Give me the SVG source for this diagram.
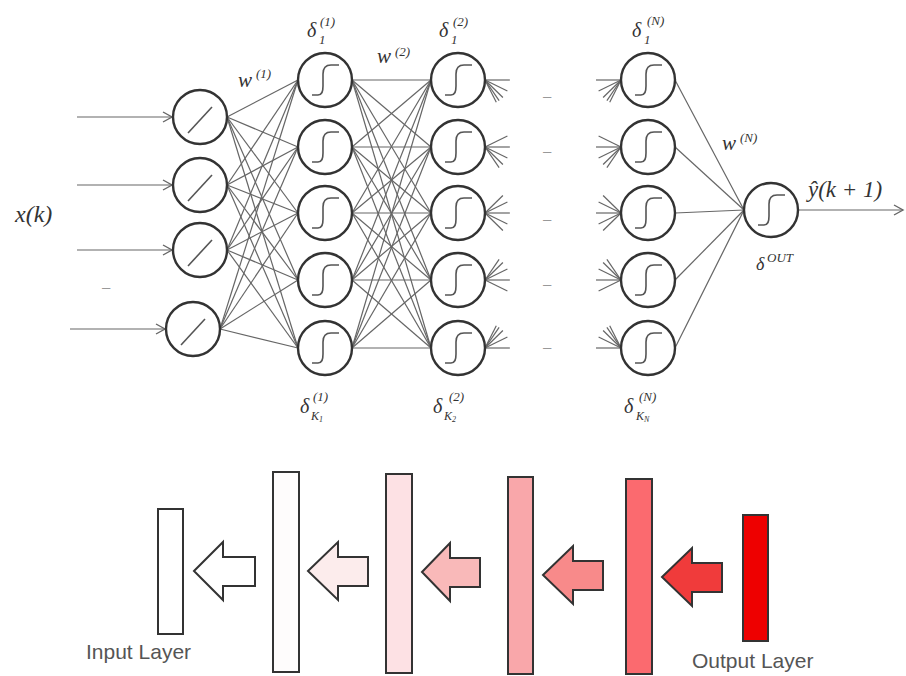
<svg xmlns="http://www.w3.org/2000/svg" width="906" height="676" viewBox="0 0 906 676">
<style>
.nd circle{fill:#fff;stroke:#333;stroke-width:2.4}
.sym{fill:none;stroke:#555;stroke-width:1.6}
.conn line{stroke:#666;stroke-width:1.2}
.m{font-family:"Liberation Serif",serif;font-style:italic;fill:#333}
.s{font-size:13px}
.d{font-family:"Liberation Sans",sans-serif;fill:#999;font-size:15px}
.lay{stroke:#333;stroke-width:2}
.lbl{font-family:"Liberation Sans",Arial,sans-serif;font-size:21px;fill:#555}
</style>
<defs>
<marker id="ah" markerUnits="userSpaceOnUse" markerWidth="14" markerHeight="14" refX="10" refY="6" orient="auto">
<path d="M1,1 L10,6 L1,11" fill="none" stroke="#666" stroke-width="1.4"/>
</marker>
<path id="sig" d="M-13,15 H-7 C-3,15 -2,12 -2,6 V-6 C-2,-12 1,-15 6,-15 H14" class="sym"/>
<path id="lin" d="M-12,16 L12,-10" class="sym"/>
</defs>

<g class="conn" id="connectors">
<line x1="77" y1="117" x2="172" y2="117" marker-end="url(#ah)"/>
<line x1="77" y1="185" x2="172" y2="185" marker-end="url(#ah)"/>
<line x1="77" y1="250" x2="172" y2="250" marker-end="url(#ah)"/>
<line x1="70" y1="329" x2="165" y2="329" marker-end="url(#ah)"/>
<line x1="227" y1="117" x2="298" y2="80"/><line x1="227" y1="117" x2="298" y2="147"/><line x1="227" y1="117" x2="298" y2="213"/><line x1="227" y1="117" x2="298" y2="280"/><line x1="227" y1="117" x2="298" y2="348"/>
<line x1="227" y1="185" x2="298" y2="80"/><line x1="227" y1="185" x2="298" y2="147"/><line x1="227" y1="185" x2="298" y2="213"/><line x1="227" y1="185" x2="298" y2="280"/><line x1="227" y1="185" x2="298" y2="348"/>
<line x1="227" y1="250" x2="298" y2="80"/><line x1="227" y1="250" x2="298" y2="147"/><line x1="227" y1="250" x2="298" y2="213"/><line x1="227" y1="250" x2="298" y2="280"/><line x1="227" y1="250" x2="298" y2="348"/>
<line x1="220" y1="329" x2="298" y2="80"/><line x1="220" y1="329" x2="298" y2="147"/><line x1="220" y1="329" x2="298" y2="213"/><line x1="220" y1="329" x2="298" y2="280"/><line x1="220" y1="329" x2="298" y2="348"/>
<line x1="352" y1="80" x2="431" y2="80"/><line x1="352" y1="80" x2="431" y2="147"/><line x1="352" y1="80" x2="431" y2="213"/><line x1="352" y1="80" x2="431" y2="280"/><line x1="352" y1="80" x2="431" y2="348"/>
<line x1="352" y1="147" x2="431" y2="80"/><line x1="352" y1="147" x2="431" y2="147"/><line x1="352" y1="147" x2="431" y2="213"/><line x1="352" y1="147" x2="431" y2="280"/><line x1="352" y1="147" x2="431" y2="348"/>
<line x1="352" y1="213" x2="431" y2="80"/><line x1="352" y1="213" x2="431" y2="147"/><line x1="352" y1="213" x2="431" y2="213"/><line x1="352" y1="213" x2="431" y2="280"/><line x1="352" y1="213" x2="431" y2="348"/>
<line x1="352" y1="280" x2="431" y2="80"/><line x1="352" y1="280" x2="431" y2="147"/><line x1="352" y1="280" x2="431" y2="213"/><line x1="352" y1="280" x2="431" y2="280"/><line x1="352" y1="280" x2="431" y2="348"/>
<line x1="352" y1="348" x2="431" y2="80"/><line x1="352" y1="348" x2="431" y2="147"/><line x1="352" y1="348" x2="431" y2="213"/><line x1="352" y1="348" x2="431" y2="280"/><line x1="352" y1="348" x2="431" y2="348"/>
<line x1="485" y1="80" x2="510" y2="80"/><line x1="485" y1="80" x2="507.4" y2="91"/><line x1="485" y1="80" x2="502.9" y2="97.5"/><line x1="485" y1="80" x2="499.1" y2="100.7"/><line x1="485" y1="80" x2="496.3" y2="102.3"/>
<line x1="485" y1="147" x2="507.4" y2="136"/><line x1="485" y1="147" x2="510" y2="147"/><line x1="485" y1="147" x2="507.4" y2="158"/><line x1="485" y1="147" x2="502.9" y2="164.5"/><line x1="485" y1="147" x2="499.1" y2="167.7"/>
<line x1="485" y1="213" x2="502.9" y2="195.5"/><line x1="485" y1="213" x2="507.4" y2="202"/><line x1="485" y1="213" x2="510" y2="213"/><line x1="485" y1="213" x2="507.4" y2="224"/><line x1="485" y1="213" x2="502.9" y2="230.5"/>
<line x1="485" y1="280" x2="499.1" y2="259.3"/><line x1="485" y1="280" x2="502.9" y2="262.5"/><line x1="485" y1="280" x2="507.4" y2="269"/><line x1="485" y1="280" x2="510" y2="280"/><line x1="485" y1="280" x2="507.4" y2="291"/>
<line x1="485" y1="348" x2="496.3" y2="325.7"/><line x1="485" y1="348" x2="499.1" y2="327.3"/><line x1="485" y1="348" x2="502.9" y2="330.5"/><line x1="485" y1="348" x2="507.4" y2="337"/><line x1="485" y1="348" x2="510" y2="348"/>
<line x1="621" y1="80" x2="596" y2="80"/><line x1="621" y1="80" x2="598.6" y2="91"/><line x1="621" y1="80" x2="603.1" y2="97.5"/><line x1="621" y1="80" x2="606.9" y2="100.7"/><line x1="621" y1="80" x2="609.7" y2="102.3"/>
<line x1="621" y1="147" x2="598.6" y2="136"/><line x1="621" y1="147" x2="596" y2="147"/><line x1="621" y1="147" x2="598.6" y2="158"/><line x1="621" y1="147" x2="603.1" y2="164.5"/><line x1="621" y1="147" x2="606.9" y2="167.7"/>
<line x1="621" y1="213" x2="603.1" y2="195.5"/><line x1="621" y1="213" x2="598.6" y2="202"/><line x1="621" y1="213" x2="596" y2="213"/><line x1="621" y1="213" x2="598.6" y2="224"/><line x1="621" y1="213" x2="603.1" y2="230.5"/>
<line x1="621" y1="280" x2="606.9" y2="259.3"/><line x1="621" y1="280" x2="603.1" y2="262.5"/><line x1="621" y1="280" x2="598.6" y2="269"/><line x1="621" y1="280" x2="596" y2="280"/><line x1="621" y1="280" x2="598.6" y2="291"/>
<line x1="621" y1="348" x2="609.7" y2="325.7"/><line x1="621" y1="348" x2="606.9" y2="327.3"/><line x1="621" y1="348" x2="603.1" y2="330.5"/><line x1="621" y1="348" x2="598.6" y2="337"/><line x1="621" y1="348" x2="596" y2="348"/>
<line x1="675" y1="80" x2="744" y2="210"/><line x1="675" y1="147" x2="744" y2="210"/><line x1="675" y1="213" x2="744" y2="210"/><line x1="675" y1="280" x2="744" y2="210"/><line x1="675" y1="348" x2="744" y2="210"/>
<line x1="798" y1="210" x2="903" y2="210" marker-end="url(#ah)"/>
</g>

<g id="in1" class="nd" transform="translate(200,117)"><circle r="27"/><use href="#lin"/></g>
<g id="in2" class="nd" transform="translate(200,185)"><circle r="27"/><use href="#lin"/></g>
<g id="in3" class="nd" transform="translate(200,250)"><circle r="27"/><use href="#lin"/></g>
<g id="in4" class="nd" transform="translate(193,329)"><circle r="27"/><use href="#lin"/></g>

<g id="h1_1" class="nd" transform="translate(325,80)"><circle r="27"/><use href="#sig"/></g>
<g id="h1_2" class="nd" transform="translate(325,147)"><circle r="27"/><use href="#sig"/></g>
<g id="h1_3" class="nd" transform="translate(325,213)"><circle r="27"/><use href="#sig"/></g>
<g id="h1_4" class="nd" transform="translate(325,280)"><circle r="27"/><use href="#sig"/></g>
<g id="h1_5" class="nd" transform="translate(325,348)"><circle r="27"/><use href="#sig"/></g>

<g id="h2_1" class="nd" transform="translate(458,80)"><circle r="27"/><use href="#sig"/></g>
<g id="h2_2" class="nd" transform="translate(458,147)"><circle r="27"/><use href="#sig"/></g>
<g id="h2_3" class="nd" transform="translate(458,213)"><circle r="27"/><use href="#sig"/></g>
<g id="h2_4" class="nd" transform="translate(458,280)"><circle r="27"/><use href="#sig"/></g>
<g id="h2_5" class="nd" transform="translate(458,348)"><circle r="27"/><use href="#sig"/></g>

<g id="hN_1" class="nd" transform="translate(648,80)"><circle r="27"/><use href="#sig"/></g>
<g id="hN_2" class="nd" transform="translate(648,147)"><circle r="27"/><use href="#sig"/></g>
<g id="hN_3" class="nd" transform="translate(648,213)"><circle r="27"/><use href="#sig"/></g>
<g id="hN_4" class="nd" transform="translate(648,280)"><circle r="27"/><use href="#sig"/></g>
<g id="hN_5" class="nd" transform="translate(648,348)"><circle r="27"/><use href="#sig"/></g>

<g id="out" class="nd" transform="translate(771,210)"><circle r="27"/><use href="#sig"/></g>

<g id="labels">
<text class="m" x="15" y="222" font-size="24">x(k)</text>
<text class="d" x="102" y="292">–</text>
<text class="d" x="543" y="101">–</text>
<text class="d" x="543" y="156">–</text>
<text class="d" x="543" y="224">–</text>
<text class="d" x="543" y="289">–</text>
<text class="d" x="543" y="352">–</text>

<text class="m" x="238" y="87" font-size="21">w</text><text class="m s" x="256" y="78">(1)</text>
<text class="m" x="377" y="63" font-size="21">w</text><text class="m s" x="395" y="56">(2)</text>
<text class="m" x="722" y="150" font-size="21">w</text><text class="m s" x="740" y="142">(N)</text>

<text class="m" x="307" y="37" font-size="20">δ</text><text class="m s" x="319" y="44">1</text><text class="m s" x="320" y="26">(1)</text>
<text class="m" x="439" y="37" font-size="20">δ</text><text class="m s" x="451" y="44">1</text><text class="m s" x="453" y="26">(2)</text>
<text class="m" x="632" y="37" font-size="20">δ</text><text class="m s" x="644" y="44">1</text><text class="m s" x="647" y="25">(N)</text>

<text class="m" x="300" y="413" font-size="20">δ</text><text class="m" x="311" y="420" font-size="12">K<tspan font-size="8" dy="2">1</tspan></text><text class="m s" x="313" y="401">(1)</text>
<text class="m" x="433" y="413" font-size="20">δ</text><text class="m" x="444" y="420" font-size="12">K<tspan font-size="8" dy="2">2</tspan></text><text class="m s" x="449" y="401">(2)</text>
<text class="m" x="624" y="413" font-size="20">δ</text><text class="m" x="636" y="420" font-size="12">K<tspan font-size="8" dy="2">N</tspan></text><text class="m s" x="639" y="401">(N)</text>

<text class="m" x="756" y="270" font-size="18">δ</text><text class="m" x="767" y="262" font-size="13">OUT</text>
<text class="m" x="808" y="197" font-size="23">ŷ(k + 1)</text>
</g>

<g id="bottom">
<g id="layer1"><rect class="lay" x="158" y="509" width="25" height="125" fill="#ffffff"/></g>
<g id="arrow1"><polygon class="lay" points="194,571 223,542 223,557 255,557 255,586 223,586 223,600" fill="#ffffff"/></g>
<g id="layer2"><rect class="lay" x="273" y="472" width="26" height="200" fill="#fefcfc"/></g>
<g id="arrow2"><polygon class="lay" points="308,571 338,542 338,557 368,557 368,586 338,586 338,600" fill="#fcecec"/></g>
<g id="layer3"><rect class="lay" x="386" y="474" width="26" height="199" fill="#fde1e4"/></g>
<g id="arrow3"><polygon class="lay" points="422,572 450,543 450,558 480,558 480,587 450,587 450,601" fill="#f9b9b9"/></g>
<g id="layer4"><rect class="lay" x="508" y="477" width="25" height="197" fill="#f9a7aa"/></g>
<g id="arrow4"><polygon class="lay" points="543,575 573,546 573,561 603,561 603,590 573,590 573,604" fill="#f88a8a"/></g>
<g id="layer5"><rect class="lay" x="626" y="479" width="26" height="195" fill="#fb6a6f"/></g>
<g id="arrow5"><polygon class="lay" points="662,577 692,548 692,563 722,563 722,592 692,592 692,606" fill="#f03b3b"/></g>
<g id="layer6"><rect class="lay" x="743" y="515" width="25" height="126" fill="#ee0000"/></g>
<text class="lbl" x="86" y="659">Input Layer</text>
<text class="lbl" x="692" y="668">Output Layer</text>
</g>
</svg>
